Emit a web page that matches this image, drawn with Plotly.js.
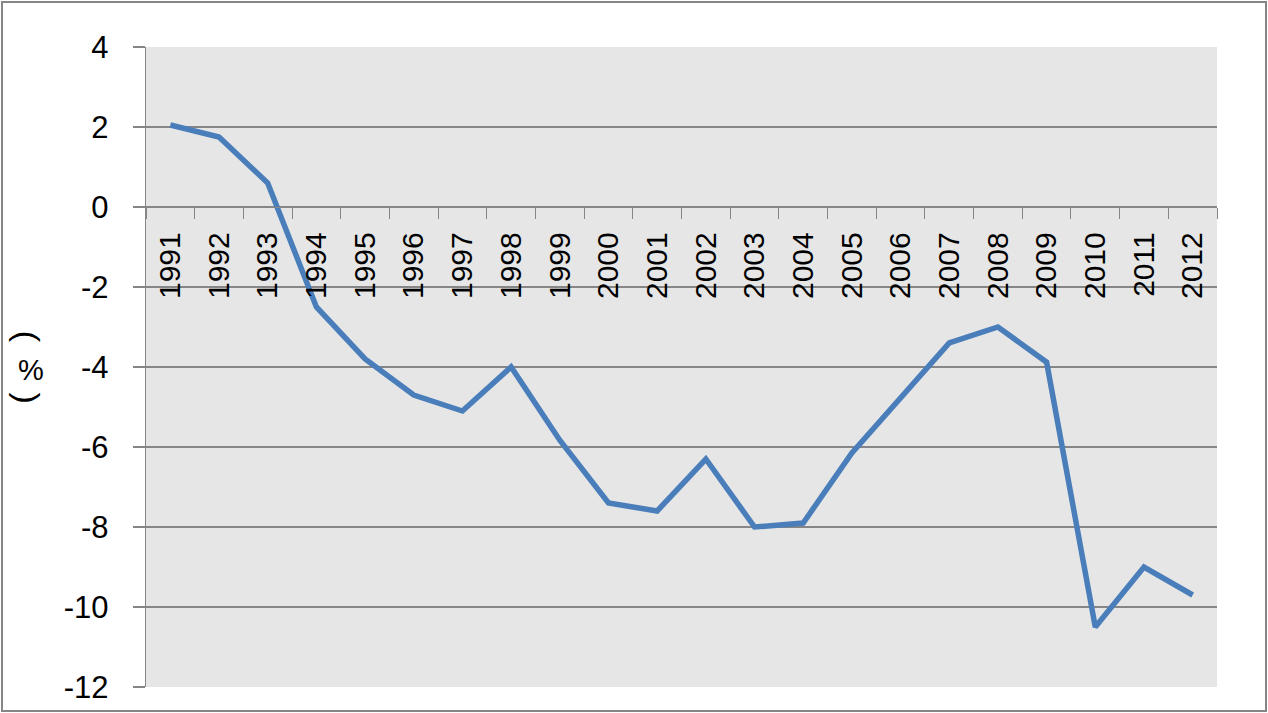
<!DOCTYPE html>
<html>
<head>
<meta charset="utf-8">
<script src="https://cdn.plot.ly/plotly-3.0.1.min.js"></script>
<style>
html,body{margin:0;padding:0;background:#fff;}
#wrap{position:relative;width:1268px;height:713px;}
#chart{width:1268px;height:713px;}
#frame{position:absolute;left:1px;top:1px;width:1262px;height:707px;border:2px solid #868686;pointer-events:none;}
</style>
</head>
<body>
<div id="wrap"><div id="chart"></div><div id="frame"></div></div>
<script>
const years = ['1991','1992','1993','1994','1995','1996','1997','1998','1999','2000','2001','2002','2003','2004','2005','2006','2007','2008','2009','2010','2011','2012'];
const values = [2.05, 1.75, 0.6, -2.5, -3.8, -4.7, -5.1, -4.0, -5.83, -7.4, -7.6, -6.3, -8.0, -7.9, -6.15, -4.78, -3.4, -3.0, -3.88, -10.5, -9.0, -9.7];
const yTickVals = [4, 2, 0, -2, -4, -6, -8, -10, -12];
const yTickText = ['4', '2', '0', '-2', '-4', '-6', '-8', '-10', '-12'];
const yTitleParts = ['(', '%', ')'];

const fontFam = 'Liberation Sans, Arial, sans-serif';
const gray = '#868686';

const trace = {
  type: 'scatter',
  mode: 'lines',
  x: years,
  y: values,
  line: {color: '#4a7ebb', width: 5.5, shape: 'linear'},
  hoverinfo: 'skip'
};

const layout = {
  width: 1268,
  height: 713,
  margin: {l: 146, r: 51, t: 47, b: 26, pad: 0},
  paper_bgcolor: '#ffffff',
  plot_bgcolor: '#e6e6e6',
  showlegend: false,
  xaxis: {
    type: 'category',
    anchor: 'free',
    position: 0.75,
    showgrid: false,
    zeroline: false,
    showline: true,
    linecolor: gray,
    linewidth: 1.3,
    ticks: 'outside',
    tickson: 'boundaries',
    ticklen: 11,
    tickcolor: gray,
    tickwidth: 1,
    tickangle: -90,
    ticklabelstandoff: 12,
    tickfont: {family: fontFam, size: 30, color: '#000'},
    range: [-0.5, 21.5],
    fixedrange: true
  },
  yaxis: {
    range: [-12, 4],
    tickmode: 'array',
    tickvals: yTickVals,
    ticktext: yTickText,
    showgrid: true,
    gridcolor: gray,
    gridwidth: 1.3,
    zeroline: false,
    showline: true,
    linecolor: gray,
    linewidth: 1.3,
    ticks: 'outside',
    ticklen: 12,
    tickcolor: gray,
    tickwidth: 1.3,
    ticklabelstandoff: 18,
    tickfont: {family: fontFam, size: 31, color: '#000'},
    fixedrange: true
  },
  annotations: [
    {
      text: yTitleParts[0],
      xref: 'paper', yref: 'paper',
      x: -0.110, y: 0.547,
      xanchor: 'center', yanchor: 'middle',
      textangle: 90,
      showarrow: false,
      font: {family: fontFam, size: 34, color: '#000'}
    },
    {
      text: yTitleParts[1],
      xref: 'paper', yref: 'paper',
      x: -0.107, y: 0.495,
      xanchor: 'center', yanchor: 'middle',
      showarrow: false,
      font: {family: fontFam, size: 29, color: '#000'}
    },
    {
      text: yTitleParts[2],
      xref: 'paper', yref: 'paper',
      x: -0.110, y: 0.452,
      xanchor: 'center', yanchor: 'middle',
      textangle: 90,
      showarrow: false,
      font: {family: fontFam, size: 34, color: '#000'}
    }
  ]
};

Plotly.newPlot('chart', [trace], layout, {displayModeBar: false, staticPlot: true});
</script>
</body>
</html>
